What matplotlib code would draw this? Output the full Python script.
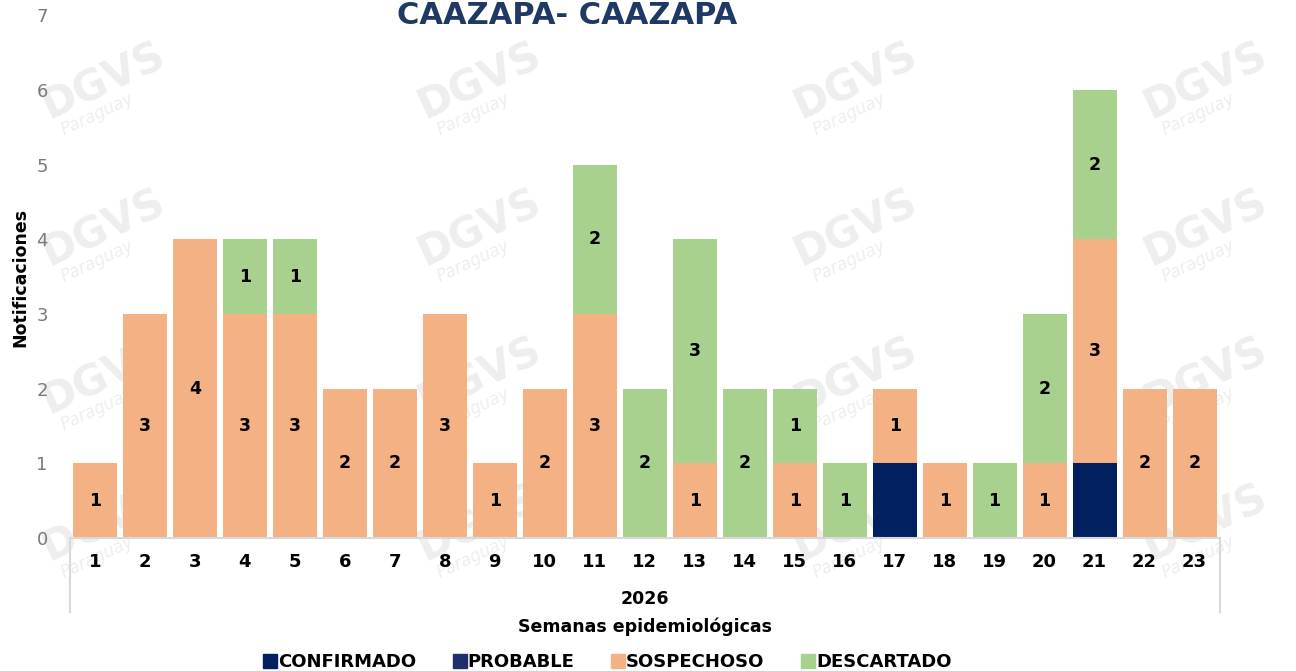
import numpy as np
import matplotlib.pyplot as plt
from matplotlib.lines import Line2D

plt.rcParams['font.family'] = ['DejaVu Sans']

semanas = [str(i) for i in range(1, 24)]
confirmado = [0, 0, 0, 0, 0, 0, 0, 0, 0, 0, 0, 0, 0, 0, 0, 0, 1, 0, 0, 0, 1, 0, 0]
probable = [0] * 23
sospechoso = [1, 3, 4, 3, 3, 2, 2, 3, 1, 2, 3, 0, 1, 0, 1, 0, 1, 1, 0, 1, 3, 2, 2]
descartado = [0, 0, 0, 1, 1, 0, 0, 0, 0, 0, 2, 2, 3, 2, 1, 1, 0, 0, 1, 2, 2, 0, 0]

c_conf = '#002060'
c_prob = '#1F2F6B'
c_sosp = '#F4B183'
c_desc = '#A9D18E'

fig = plt.figure(figsize=(12.96, 6.71), dpi=100)
fig.patch.set_facecolor('white')

# marca de agua
for yy in [0.88, 0.66, 0.44, 0.22]:
    for xx in [0.08, 0.37, 0.66, 0.93]:
        fig.text(xx, yy, 'DGVS', fontsize=30, fontweight='bold', color='#eeeeee',
                 rotation=25, ha='center', va='center', zorder=-5)
        fig.text(xx - 0.005, yy - 0.05, 'Paraguay', fontsize=12, style='italic',
                 color='#eeeeee', rotation=25, ha='center', va='center', zorder=-5)

ax = fig.add_axes([0.054, 0.198, 0.887, 0.7795])
ax.patch.set_alpha(0)

x = np.arange(len(semanas))
w = 0.88
b1 = np.array(confirmado)
b2 = b1 + np.array(probable)
b3 = b2 + np.array(sospechoso)
ax.bar(x, confirmado, w, color=c_conf, zorder=2)
ax.bar(x, probable, w, bottom=b1, color=c_prob, zorder=2)
rs = ax.bar(x, sospechoso, w, bottom=b2, color=c_sosp, zorder=2)
rd = ax.bar(x, descartado, w, bottom=b3, color=c_desc, zorder=2)
ax.bar_label(rs, labels=[str(v) if v else '' for v in sospechoso], label_type='center',
             fontsize=12.5, fontweight='bold', color='black')
ax.bar_label(rd, labels=[str(v) if v else '' for v in descartado], label_type='center',
             fontsize=12.5, fontweight='bold', color='black')

ax.set_xlim(-0.5, len(semanas) - 0.5)
ax.set_ylim(0, 7)
ax.set_xticks(x)
ax.set_xticklabels(semanas, fontsize=13, fontweight='bold')
ax.set_yticks(range(8))
ax.tick_params(axis='x', length=0, pad=11)
ax.tick_params(axis='y', length=0, pad=16, labelsize=13, labelcolor='#7a7a7a')
for s in ['top', 'right', 'left']:
    ax.spines[s].set_visible(False)
ax.spines['bottom'].set_color('#d9d9d9')
ax.spines['bottom'].set_linewidth(1.5)

for xe in [0, 1]:
    ax.plot([xe, xe], [0, -0.1415], transform=ax.transAxes, color='#d9d9d9',
            lw=1.5, clip_on=False)

ax.text(0.5, -0.1166, '2026', transform=ax.transAxes, ha='center', va='center',
        fontsize=12.5, fontweight='bold')
ax.text(0.5, -0.170, 'Semanas epidemiológicas', transform=ax.transAxes, ha='center',
        va='center', fontsize=12.5, fontweight='bold')

fig.text(20 / 1296, 1 - 277 / 671, 'Notificaciones', rotation=90, ha='center',
         va='center', fontsize=12.5, fontweight='bold')
fig.text(567 / 1296, 1 - 24 / 671, 'CAAZAPÁ- CAAZAPÁ', ha='center', va='baseline',
         fontsize=22, fontweight='bold', color='#1F3864')

handles = [Line2D([], [], marker='s', ls='', color=c, markersize=10)
           for c in [c_conf, c_prob, c_sosp, c_desc]]
fig.legend(handles, ['CONFIRMADO', 'PROBABLE', 'SOSPECHOSO', 'DESCARTADO'],
           loc='center', bbox_to_anchor=(608 / 1296, 1 - 662 / 671), ncol=4,
           frameon=False, handlelength=0.6, handletextpad=0.15, columnspacing=2.1,
           prop={'weight': 'bold', 'size': 13})

fig.savefig('out.png', dpi=100)
